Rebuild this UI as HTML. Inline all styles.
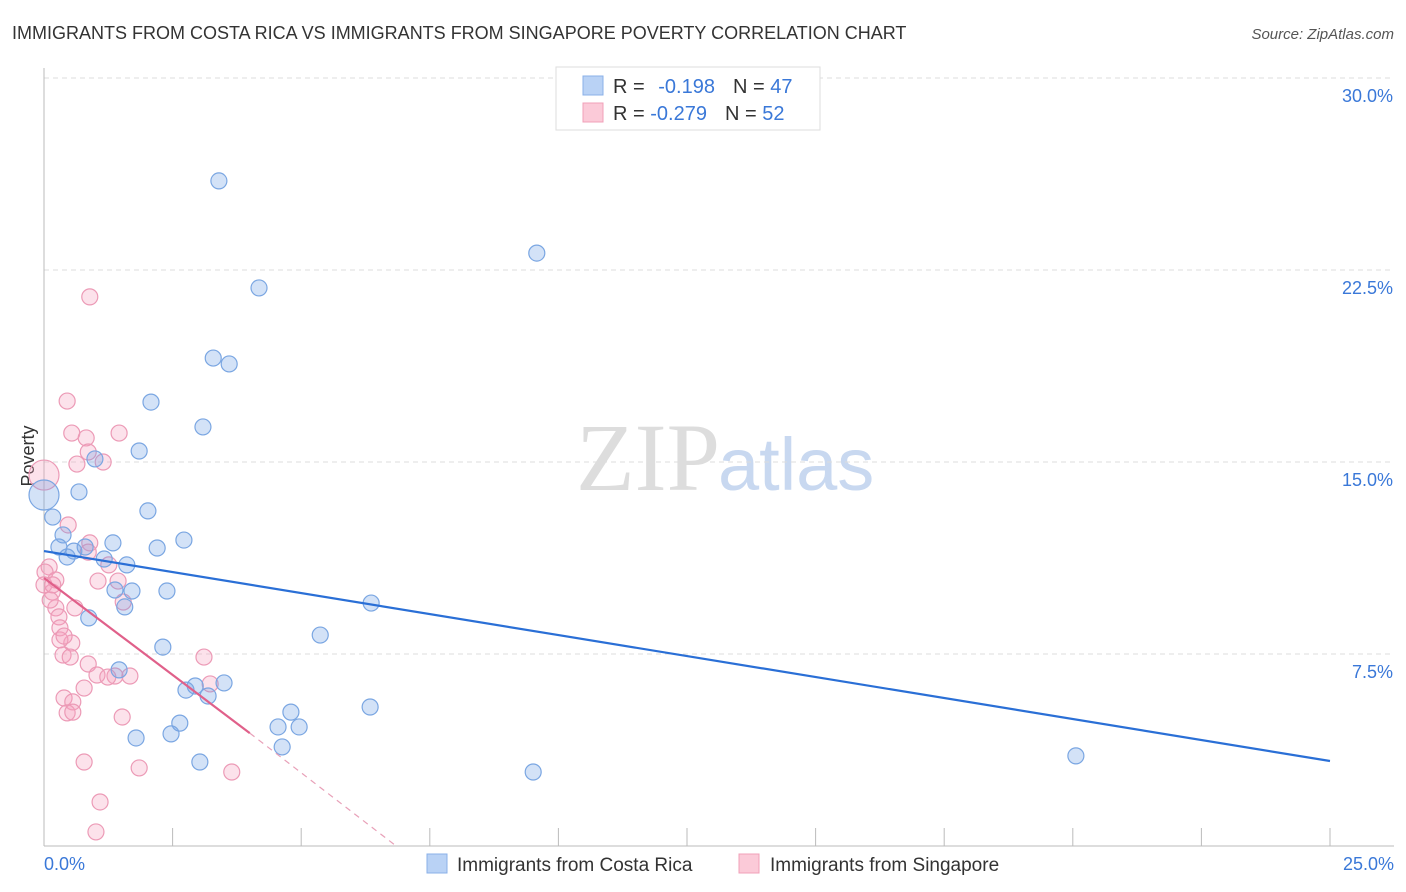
<!DOCTYPE html>
<html><head><meta charset="utf-8"><style>
body{margin:0;background:#fff;font-family:"Liberation Sans",sans-serif}
#c{position:relative;width:1406px;height:892px;overflow:hidden}
</style></head><body>
<div id="c">
<svg id="s" width="1406" height="892" xmlns="http://www.w3.org/2000/svg">
<text x="12" y="39" font-size="18" fill="#333">IMMIGRANTS FROM COSTA RICA VS IMMIGRANTS FROM SINGAPORE POVERTY CORRELATION CHART</text>
<text x="1394" y="39" font-size="15" fill="#555" font-style="italic" text-anchor="end">Source: ZipAtlas.com</text>
<text x="720" y="490" font-size="96" fill="#ddd" font-family="Liberation Serif,serif" text-anchor="end">ZIP</text>
<text x="718" y="490" font-size="74" fill="#c8d8f0">atlas</text>
<text transform="translate(34,456) rotate(-90)" font-size="18" fill="#333" text-anchor="middle">Poverty</text>
<g id="grid"></g><g id="pts"></g><g id="lines"></g>
<g>
<rect x="556" y="67" width="264" height="63" fill="#fff" stroke="#ddd"/>
<rect x="583" y="76" width="20" height="19" fill="#b9d2f5" stroke="#8ab0e8"/>
<rect x="583" y="103" width="20" height="19" fill="#fbcad8" stroke="#f0a0b8"/>
<text x="613" y="93" font-size="20" fill="#333">R = <tspan fill="#3a78d8" dx="8">-0.198</tspan><tspan dx="18">N = </tspan><tspan fill="#3a78d8">47</tspan></text>
<text x="613" y="120" font-size="20" fill="#333">R = <tspan fill="#3a78d8">-0.279</tspan><tspan dx="18">N = </tspan><tspan fill="#3a78d8">52</tspan></text>
</g>
<g>
<rect x="427" y="854" width="20" height="19" fill="#b9d2f5" stroke="#8ab0e8"/>
<text x="457" y="871" font-size="19" fill="#333">Immigrants from Costa Rica</text>
<rect x="739" y="854" width="20" height="19" fill="#fbcad8" stroke="#f0a0b8"/>
<text x="770" y="871" font-size="19" fill="#333">Immigrants from Singapore</text>
</g>
</svg>
</div>
<script>
const yTicks=[7.5,15,22.5,30];
const yTickLabels=["7.5%","15.0%","22.5%","30.0%"];
const xTicks=[0,2.5,5,7.5,10,12.5,15,17.5,20,22.5,25];
const xEndLabels=["0.0%","25.0%"];
const crX=[3.40,9.58,4.18,3.29,3.60,2.08,3.09,1.85,0.99,0.68,0,0.17,2.02,0.37,2.72,1.34,2.20,0.29,0.80,0.58,0.45,1.17,1.61,1.38,1.71,2.39,1.57,6.36,0.87,5.37,2.31,1.46,3.50,2.94,2.76,3.19,4.80,6.34,2.64,4.55,4.96,1.79,2.47,4.63,3.03,9.51,20.06];
const crY=[25.98,23.16,21.80,19.06,18.83,17.34,16.37,15.43,15.12,13.83,13.71,12.85,13.09,12.15,11.95,11.84,11.64,11.68,11.68,11.52,11.29,11.21,10.98,10.0,9.96,9.96,9.34,9.49,8.91,8.24,7.77,6.88,6.37,6.25,6.09,5.86,5.23,5.43,4.80,4.65,4.65,4.22,4.38,3.87,3.28,2.89,3.52];
const sgX=[0.89,0.45,0.54,0.82,1.46,0.86,0.64,1.15,0,0.47,0.89,1.26,0.10,0.02,0.23,0,0.16,1.05,1.44,0.23,0.60,1.54,0.29,0.31,0.54,0.31,0.39,0.37,0.51,0.86,3.11,1.03,1.38,1.67,3.23,0.78,0.39,0.56,0.45,0.56,1.52,0.78,1.85,3.65,1.09,1.01,0.12,1.24,0.17,0.86];
const sgY=[21.45,17.38,16.13,15.94,16.13,15.39,14.92,15.0,14.49,12.54,11.84,10.98,10.90,10.70,10.39,10.20,9.92,10.35,10.35,9.30,9.30,9.53,8.95,8.52,7.93,8.05,8.20,7.46,7.38,7.11,7.38,6.68,6.64,6.64,6.33,6.17,5.78,5.63,5.20,5.23,5.04,3.28,3.05,2.89,1.72,0.55,9.61,6.60,10.20,11.48];
const crTrend=[[0,11.52],[25,3.32]];
const sgTrend=[[0,10.47],[4.0,4.41]];
const sgTrendExt=[[4.0,4.41],[6.82,0.04]];
const X=v=>44+v*51.44, Y=v=>846-v*25.6;
const NS="http://www.w3.org/2000/svg";
function mk(t,a,p){const e=document.createElementNS(NS,t);for(const k in a)e.setAttribute(k,a[k]);p.appendChild(e);return e;}
const grid=document.getElementById('grid');
yTicks.forEach((t,i)=>{
 const l=mk('line',{x1:44,x2:1394,y1:Y(t),y2:Y(t),stroke:'#ddd','stroke-dasharray':'5,4'},grid);
 
 
 const tx=mk('text',{x:1393,y:Y(t)+24,'font-size':18,fill:'#3a78d8','text-anchor':'end'},grid);
 tx.textContent=yTickLabels[i];
 
 
});
const ya=mk('line',{x1:44,x2:44,y1:68,y2:846,stroke:'#bbb'},grid);


const xa=mk('line',{x1:44,x2:1394,y1:846,y2:846,stroke:'#bbb'},grid);


xTicks.forEach(t=>{
 const l=mk('line',{x1:X(t),x2:X(t),y1:828,y2:846,stroke:'#bbb'},grid);
 
 
});
[[0,'start'],[25,'end']].forEach((p,i)=>{
 const tx=mk('text',{x:i?1394:44,y:870,'font-size':18,fill:'#3a78d8','text-anchor':p[1]},grid);
 tx.textContent=xEndLabels[i];
 
 
});
const pts=document.getElementById('pts');
function dots(xs,ys,fill,stroke,name){
 xs.forEach((x,i)=>{
  const big=(x===0&&ys[i]>13);
  const c=mk('circle',{cx:X(x),cy:Y(ys[i]),r:big?15:8,fill:fill,stroke:stroke,'stroke-width':1.2},pts);
  
  
 });
}
dots(sgX,sgY,'rgba(245,160,190,0.3)','#ec9ab6','point-singapore');
dots(crX,crY,'rgba(110,160,230,0.3)','#7aa6e2','point-costa-rica');
const lg=document.getElementById('lines');
const b=mk('line',{x1:X(crTrend[0][0]),y1:Y(crTrend[0][1]),x2:X(crTrend[1][0]),y2:Y(crTrend[1][1]),stroke:'#2a6fd6','stroke-width':2.2},lg);


const p=mk('line',{x1:X(sgTrend[0][0]),y1:Y(sgTrend[0][1]),x2:X(sgTrend[1][0]),y2:Y(sgTrend[1][1]),stroke:'#e0608a','stroke-width':2.2},lg);


const pd=mk('line',{x1:X(sgTrendExt[0][0]),y1:Y(sgTrendExt[0][1]),x2:X(sgTrendExt[1][0]),y2:Y(sgTrendExt[1][1]),stroke:'#e8a0b8','stroke-width':1.2,'stroke-dasharray':'6,5'},lg);


</script>
</body></html>
